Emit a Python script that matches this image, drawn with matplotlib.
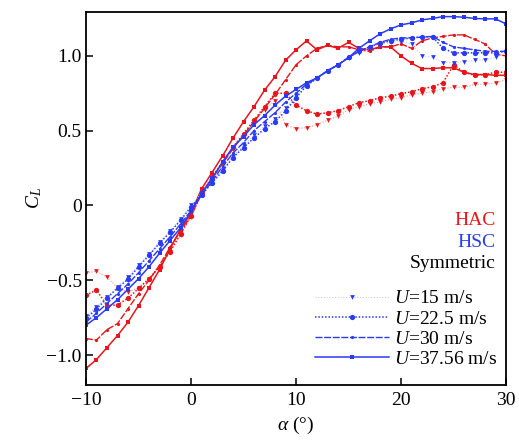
#!/usr/bin/env python3
"""Lift coefficient vs angle of attack for HAC and HSC sections at four wind speeds."""

import matplotlib
matplotlib.use('Agg')
import matplotlib.pyplot as plt
from matplotlib.lines import Line2D

plt.rcParams['font.family'] = ['Liberation Serif', 'DejaVu Serif']
plt.rcParams['mathtext.fontset'] = 'custom'
plt.rcParams['mathtext.rm'] = 'Liberation Serif'
plt.rcParams['mathtext.it'] = 'Liberation Serif:italic'

RED = '#e8161b'
BLUE = '#2a3bf5'
RED_LIGHT = '#f29598'
BLUE_LIGHT = '#c3c9fa'

alpha = list(range(-10, 31))

# HAC section
hac_15 = [-0.45, -0.44, -0.48, -0.55, -0.58, -0.55, -0.49, -0.41, -0.31, -0.20, -0.08,
          0.07, 0.18, 0.28, 0.38, 0.47, 0.56, 0.64, 0.70, 0.54, 0.513,
          0.52, 0.54, 0.57, 0.595, 0.64, 0.66, 0.68, 0.69, 0.71, 0.72,
          0.74, 0.75, 0.76, 0.78, 0.79, 0.79, 0.81, 0.81, 0.82, 0.84]
hac_225 = [-0.60, -0.565, -0.67, -0.665, -0.62, -0.555, -0.49, -0.41, -0.31, -0.19, -0.07,
           0.08, 0.19, 0.29, 0.39, 0.48, 0.57, 0.66, 0.75, 0.75, 0.67,
           0.633, 0.61, 0.62, 0.633, 0.66, 0.687, 0.70, 0.72, 0.73, 0.747,
           0.76, 0.78, 0.793, 0.82, 0.94, 0.89, 0.87, 0.875, 0.89, 0.89]
hac_30 = [-0.89, -0.90, -0.83, -0.79, -0.69, -0.59, -0.50, -0.40, -0.28, -0.17, -0.07,
          0.08, 0.18, 0.28, 0.38, 0.47, 0.56, 0.65, 0.74, 0.84, 0.94,
          1.00, 1.05, 1.07, 1.06, 1.06, 1.04, 1.03, 1.06, 1.06, 1.08,
          1.05, 1.10, 1.12, 1.13, 1.14, 1.14, 1.11, 1.08, 1.01, 1.00]
hac_3756 = [-1.09, -1.03, -0.95, -0.87, -0.78, -0.67, -0.55, -0.43, -0.29, -0.16, -0.05,
            0.11, 0.22, 0.33, 0.45, 0.56, 0.66, 0.77, 0.86, 0.97, 1.04,
            1.10, 1.04, 1.07, 1.05, 1.09, 1.05, 1.04, 1.06, 1.06, 1.00,
            0.95, 0.915, 0.915, 0.92, 0.92, 0.89, 0.875, 0.875, 0.87, 0.87]

# HSC section
hsc_15 = [-0.74, -0.68, -0.61, -0.545, -0.48, -0.40, -0.325, -0.245, -0.17, -0.09, 0.0,
          0.08, 0.16, 0.24, 0.33, 0.40, 0.47, 0.53, 0.58, 0.65, 0.73,
          0.80, 0.85, 0.90, 0.94, 0.985, 1.02, 1.05, 1.075, 1.09, 1.095,
          1.08, 1.00, 0.99, 0.955, 0.955, 0.962, 0.97, 0.973, 0.99, 1.02]
hsc_225 = [-0.755, -0.693, -0.62, -0.553, -0.493, -0.41, -0.333, -0.253, -0.18, -0.10, -0.01,
           0.07, 0.15, 0.23, 0.32, 0.387, 0.45, 0.513, 0.56, 0.63, 0.72,
           0.80, 0.85, 0.90, 0.94, 0.99, 1.03, 1.06, 1.085, 1.10, 1.11,
           1.12, 1.127, 1.127, 1.05, 1.02, 1.02, 1.02, 1.02, 1.02, 1.03]
hsc_30 = [-0.78, -0.72, -0.655, -0.59, -0.525, -0.45, -0.37, -0.29, -0.21, -0.125, -0.035,
          0.07, 0.16, 0.26, 0.35, 0.42, 0.50, 0.56, 0.62, 0.69, 0.75,
          0.81, 0.85, 0.90, 0.94, 0.99, 1.03, 1.06, 1.09, 1.11, 1.12,
          1.12, 1.125, 1.13, 1.09, 1.06, 1.05, 1.04, 1.03, 1.03, 1.03]
hsc_3756 = [-0.80, -0.75, -0.69, -0.63, -0.56, -0.49, -0.41, -0.32, -0.235, -0.15, -0.04,
            0.08, 0.18, 0.29, 0.39, 0.46, 0.54, 0.60, 0.67, 0.73, 0.775,
            0.82, 0.853, 0.90, 0.94, 0.987, 1.05, 1.10, 1.147, 1.18, 1.207,
            1.22, 1.24, 1.25, 1.262, 1.262, 1.258, 1.25, 1.247, 1.247, 1.213]

speed_labels = ['$U$=15 m/s', '$U$=22.5 m/s', '$U$=30 m/s', '$U$=37.56 m/s']

# per speed: (linestyle, marker, markersize, linewidth, faint line?)
STYLES = [
    ((0, (1, 1.5)), 'v', 3.4, 0.8, True),
    ((0, (1, 1.2)), 'o', 3.8, 1.1, False),
    ((0, (5, 1.2)), 'o', 2.3, 1.0, False),
    ('-', 's', 2.3, 1.1, False),
]

FS = 14

fig = plt.figure(figsize=(5.19, 4.44), dpi=100)
ax = fig.add_axes([0.1657, 0.133, 0.8093, 0.840])

for group, color, light in (([hac_15, hac_225, hac_30, hac_3756], RED, RED_LIGHT),
                            ([hsc_15, hsc_225, hsc_30, hsc_3756], BLUE, BLUE_LIGHT)):
    for series, (ls, mk, ms, lw, faint) in zip(group, STYLES):
        if faint:
            ax.plot(alpha, series, color=light, linestyle=ls, linewidth=lw)
            ax.plot(alpha, series, color=color, linestyle='none', marker=mk,
                    markersize=ms, markeredgewidth=0)
        else:
            ax.plot(alpha, series, color=color, linestyle=ls, marker=mk, markersize=ms,
                    linewidth=lw, markeredgewidth=0)

ax.set_xlim(-10, 30)
ax.set_ylim(-1.2, 1.293)
ax.set_xticks([-10, 0, 10, 20, 30])
ax.set_xticklabels(['\u221210', '0', '10', '20', '30'])
ax.set_yticks([-1.0, -0.5, 0, 0.5, 1.0])
ax.set_yticklabels(['\u22121.0', '\u22120.5', '0', '0.5', '1.0'])
ax.tick_params(direction='in', length=5, width=1.1, labelsize=FS, pad=3,
               top=False, right=False)
ax.tick_params(axis='x', pad=5)
for sp in ax.spines.values():
    sp.set_linewidth(1.3)

ax.set_xlabel('$\\alpha$ (\u00b0)', fontsize=FS, labelpad=4)
ax.set_ylabel('$C_L$', fontsize=FS, labelpad=2)

ax.text(0.976, 0.440, 'HAC', color=RED, fontsize=FS, ha='right', va='center',
        transform=ax.transAxes)
ax.text(0.976, 0.383, 'HSC', color=BLUE, fontsize=FS, ha='right', va='center',
        transform=ax.transAxes)
ax.text(0.976, 0.325, 'Symmetric', color='black', fontsize=FS, ha='right', va='center',
        transform=ax.transAxes)

handles = []
for ls, mk, ms, lw, faint in STYLES:
    handles.append(Line2D([], [], color=BLUE_LIGHT if faint else BLUE, linestyle=ls,
                          linewidth=lw, marker=mk, markersize=ms,
                          markerfacecolor=BLUE, markeredgewidth=0))
ax.legend(handles, speed_labels, loc='lower right', bbox_to_anchor=(0.98, 0.046),
          frameon=False, fontsize=FS, handlelength=3.8, handletextpad=0.25,
          labelspacing=0.13, borderpad=0.0, borderaxespad=0.0)

fig.savefig('out.png', dpi=100, facecolor='white')
